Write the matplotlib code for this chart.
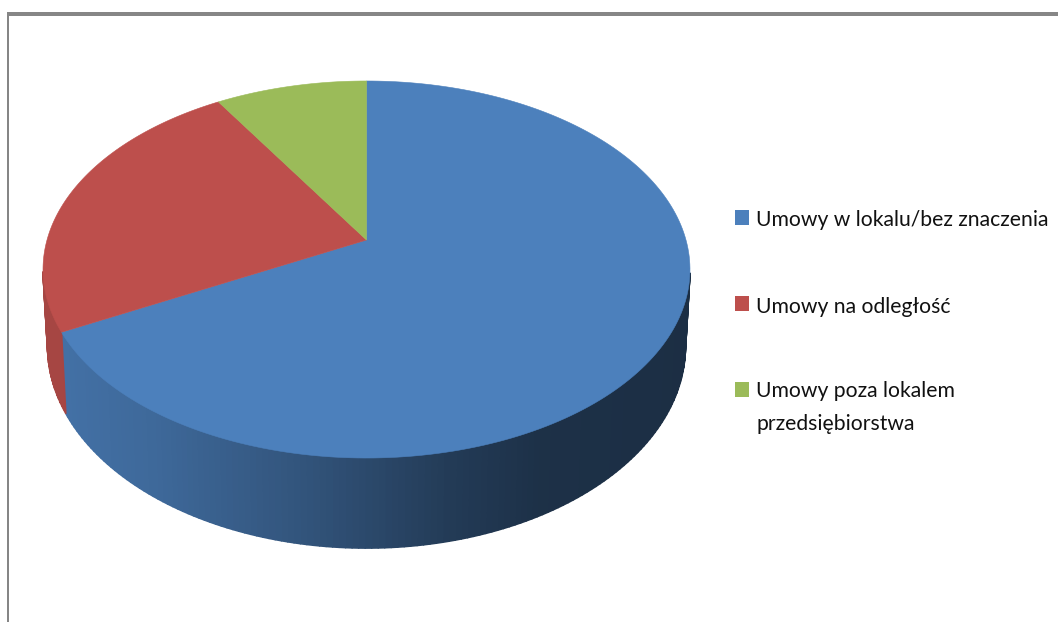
import numpy as np
import matplotlib
matplotlib.use("Agg")
import matplotlib.pyplot as plt
from matplotlib.collections import PolyCollection
from matplotlib.patches import Polygon, Rectangle

labels = ["Umowy w lokalu/bez znaczenia", "Umowy na odległość", "Umowy poza lokalem\nprzedsiębiorstwa"]
values = [67.3, 23.9, 8.8]
colors = ["#4c80bc", "#bd4f4c", "#9bbb59"]

# perspective of the 3d pie, in pixels
cx = 366.5
p = 0.1565
top_cy, top_kx, top_ky = 240, 319.5, 183.9
bot_cy, bot_kx, bot_ky = 314.5, 315, 197


def rim(t, cy, kx, ky):
    u = np.sin(t)
    v = -np.cos(t)
    d = 1 - p * v
    return cx + kx * u / d, cy + ky * v / d


def shade(x):
    # side wall gets darker to the right
    return np.interp(x, [60, 150, 300, 450, 540, 700], [0.88, 0.82, 0.66, 0.46, 0.38, 0.36])


fig = plt.figure(figsize=(10.58, 6.22), dpi=100)
ax = fig.add_axes([0, 0, 1, 1])
ax.set_xlim(0, 1058)
ax.set_ylim(622, 0)
ax.axis("off")

# chart frame
ax.add_patch(Rectangle((7, 12), 1051, 4, fc="#868686", ec="none"))
ax.add_patch(Rectangle((7, 12), 2, 610, fc="#868686", ec="none"))

edges = np.cumsum([0] + values) / sum(values) * 2 * np.pi

# side wall first, only the front part shows
for i, col in enumerate(colors):
    n = max(int(np.degrees(edges[i + 1] - edges[i])), 2)
    ts = np.linspace(edges[i], edges[i + 1], n + 1)
    polys = []
    fcs = []
    base = np.array(matplotlib.colors.to_rgb(col))
    for a, b in zip(ts[:-1], ts[1:]):
        if -np.cos((a + b) / 2) < 0.17:
            continue
        x1, y1 = rim(a, top_cy, top_kx, top_ky)
        x2, y2 = rim(b, top_cy, top_kx, top_ky)
        x3, y3 = rim(b, bot_cy, bot_kx, bot_ky)
        x4, y4 = rim(a, bot_cy, bot_kx, bot_ky)
        polys.append([(x1, y1), (x2, y2), (x3, y3), (x4, y4)])
        fcs.append(base * shade((x1 + x2) / 2))
    if polys:
        ax.add_collection(PolyCollection(polys, facecolors=fcs, edgecolors=fcs, linewidths=1.2))

# top face
for i, col in enumerate(colors):
    ts = np.linspace(edges[i], edges[i + 1], 200)
    xs, ys = rim(ts, top_cy, top_kx, top_ky)
    pts = [(cx, top_cy)] + list(zip(xs, ys))
    ax.add_patch(Polygon(pts, closed=True, fc=col, ec=col, lw=0.4))

# legend
square_y = [210, 296, 382]
text_y = [226, 313, 397]
font = ["Lato", "DejaVu Sans"]
for lab, col, sy, ty in zip(labels, colors, square_y, text_y):
    ax.add_patch(Rectangle((735, sy), 14, 15, fc=col, ec="none"))
    ax.text(756, ty, lab.split("\n")[0], fontsize=15.2, va="baseline", color="#111111", family=font)
    if "\n" in lab:
        ax.text(756, ty + 33, lab.split("\n")[1], fontsize=15.2, va="baseline", color="#111111", family=font)

fig.savefig("out.png", dpi=100, facecolor="white")
